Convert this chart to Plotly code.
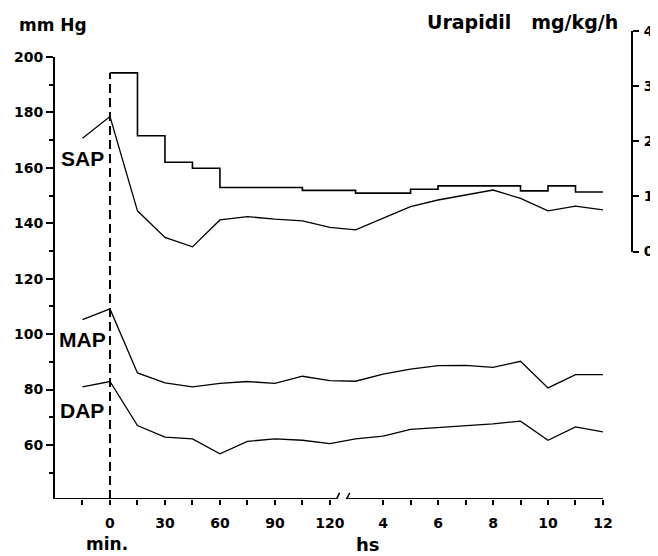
import plotly.graph_objects as go

# ---------------- data ----------------
minutes = [-15, 0, 15, 30, 45, 60, 75, 90, 105, 120]
hours = [3, 4, 5, 6, 7, 8, 9, 10, 11, 12]

sap_min = [170.7, 178.5, 144.5, 134.9, 131.5, 141.2, 142.4, 141.5, 140.9, 138.5]
sap_hs = [137.6, 141.8, 146.0, 148.4, 150.2, 152.0, 149.0, 144.5, 146.2, 144.8]

map_min = [105.2, 109.1, 86.0, 82.4, 81.0, 82.2, 82.9, 82.2, 84.8, 83.2]
map_hs = [83.0, 85.6, 87.4, 88.6, 88.7, 88.0, 90.2, 80.6, 85.4, 85.4]

dap_min = [81.0, 82.9, 67.0, 62.8, 62.2, 56.8, 61.3, 62.2, 61.7, 60.5]
dap_hs = [62.2, 63.2, 65.6, 66.2, 67.0, 67.6, 68.6, 61.7, 66.5, 64.7]

# Urapidil infusion steps: start times (minutes / hours) and dose (mg/kg/h)
dose_start_min = [0, 15, 30, 45, 60, 105]
dose_start_hs = [3, 5, 6, 9, 10, 11]
dose_end_hs = 12
dose_vals = [3.24, 2.10, 1.62, 1.51, 1.16, 1.11, 1.06, 1.13, 1.19, 1.10, 1.19, 1.08]

min_ticks = [-15, 0, 15, 30, 45, 60, 75, 90, 105, 120]
min_labels = ["", "0", "", "30", "", "60", "", "90", "", "120"]
hs_ticks = [4, 5, 6, 7, 8, 9, 10, 11, 12]
hs_labels = ["4", "", "6", "", "8", "", "10", "", "12"]

left_ticks = [60, 80, 100, 120, 140, 160, 180, 200]
right_ticks = [0, 1, 2, 3, 4]

# ---------------- axis geometry ----------------
HOUR_OFFSET = 89      # broken time axis: hours placed after the minute section
HOUR_SCALE = 15       # axis units per hour
XRANGE = [-30, HOUR_OFFSET + HOUR_SCALE * 12]
XDOM = [0, 0.9497]
YRANGE = [40.5, 200]
YDOM = [0, 0.9444]
Y2RANGE = [0, 4]
Y2DOM = [0.5288, 1]


def hpos(h):
    return HOUR_OFFSET + HOUR_SCALE * h


def y2_to_y(v):
    paper = Y2DOM[0] + (v - Y2RANGE[0]) / (Y2RANGE[1] - Y2RANGE[0]) * (Y2DOM[1] - Y2DOM[0])
    return YRANGE[0] + (paper - YDOM[0]) / (YDOM[1] - YDOM[0]) * (YRANGE[1] - YRANGE[0])


xs = minutes + [hpos(h) for h in hours]
dose_x = dose_start_min + [hpos(h) for h in dose_start_hs] + [hpos(dose_end_hs)]
dose_y = dose_vals + [dose_vals[-1]]

FONT = "DejaVu Sans"
line_style = dict(color="black", width=1.3)

fig = go.Figure()
for name, a, b in [("SAP", sap_min, sap_hs), ("MAP", map_min, map_hs), ("DAP", dap_min, dap_hs)]:
    fig.add_trace(go.Scatter(x=xs, y=a + b, mode="lines", line=line_style, name=name,
                             showlegend=False, hoverinfo="skip", xaxis="x", yaxis="y"))

fig.add_trace(go.Scatter(x=dose_x, y=dose_y, mode="lines", line=dict(color="black", width=1.6, shape="hv"),
                         showlegend=False, hoverinfo="skip", xaxis="x", yaxis="y2"))

# dashed start-of-infusion line
fig.add_shape(type="line", xref="x", yref="y", x0=0, x1=0, y0=YRANGE[0], y1=y2_to_y(dose_vals[0]),
              line=dict(color="black", width=2, dash="9px,5px"))

# broken x-axis line
brk_a, brk_b = 123.8, 129.3
fig.add_shape(type="line", xref="x", yref="y", x0=XRANGE[0], x1=brk_a, y0=YRANGE[0], y1=YRANGE[0],
              line=dict(color="black", width=2))
fig.add_shape(type="line", xref="x", yref="y", x0=brk_b, x1=XRANGE[1], y0=YRANGE[0], y1=YRANGE[0],
              line=dict(color="black", width=2))
for bx in (brk_a, brk_b):
    fig.add_shape(type="line", xref="x", yref="y", x0=bx - 1.5, x1=bx + 1.5, y0=YRANGE[0] - 1.7, y1=YRANGE[0] + 2.2,
                  line=dict(color="black", width=1.6))

tickfont = dict(family=FONT, size=14, color="black", weight="bold")

# the page body has an 8px margin, so the figure is 8px smaller than the window
fig.update_layout(
    template="none",
    width=650, height=548,
    margin=dict(l=47, r=26, t=23, b=57, autoexpand=False),
    paper_bgcolor="white", plot_bgcolor="rgba(0,0,0,0)",
    showlegend=False,
    xaxis=dict(domain=XDOM, range=XRANGE, showgrid=False, zeroline=False, showline=False, automargin=False,
               tickvals=min_ticks + [hpos(h) for h in hs_ticks], ticktext=min_labels + hs_labels,
               ticks="outside", ticklen=5, tickwidth=1.5, tickcolor="black",
               tickfont=tickfont, ticklabelstandoff=6, anchor="y"),
    yaxis=dict(domain=YDOM, range=YRANGE, showgrid=False, zeroline=False, showline=True, automargin=False,
               linecolor="black", linewidth=2, tickvals=left_ticks, ticks="outside", ticklen=7,
               tickwidth=1.5, tickcolor="black", tickfont=tickfont, ticklabelstandoff=0,
               minor=dict(dtick=10, tick0=0, ticks="outside", ticklen=4, tickwidth=1.5, tickcolor="black",
                          showgrid=False),
               anchor="x"),
    yaxis2=dict(domain=Y2DOM, range=Y2RANGE, showgrid=False, zeroline=False, showline=True, automargin=False,
                linecolor="black", linewidth=2, tickvals=right_ticks, ticks="outside", ticklen=6,
                tickwidth=1.5, tickcolor="black", tickfont=tickfont, ticklabelstandoff=2,
                side="right", anchor="free", position=1.0),
)

label_font = dict(family="Liberation Sans", size=21, color="black", weight="bold")
for txt, yy in [("SAP", 163.5), ("MAP", 97.9), ("DAP", 72.6)]:
    fig.add_annotation(x=-15.2, y=yy, xref="x", yref="y", text=txt, showarrow=False,
                       font=label_font, xanchor="center", yanchor="middle")

title_font = dict(family=FONT, size=17, color="black", weight="bold")
fig.add_annotation(x=-0.066, y=1.012, xref="paper", yref="paper", text="mm Hg", showarrow=False,
                   font=title_font, xanchor="left", yanchor="middle")
fig.add_annotation(x=0.979, y=1.02, xref="paper", yref="paper", text="Urapidil   mg/kg/h", showarrow=False,
                   font=dict(family=FONT, size=19, color="black", weight="bold"), xanchor="right", yanchor="middle")
fig.add_annotation(x=0.0901, y=-0.097, xref="paper", yref="paper", text="min.", showarrow=False,
                   font=dict(family=FONT, size=17, color="black", weight="bold"), xanchor="center", yanchor="middle")
fig.add_annotation(x=0.5425, y=-0.097, xref="paper", yref="paper", text="hs", showarrow=False,
                   font=dict(family=FONT, size=18, color="black", weight="bold"), xanchor="center", yanchor="middle")

fig.write_html("out.html")
